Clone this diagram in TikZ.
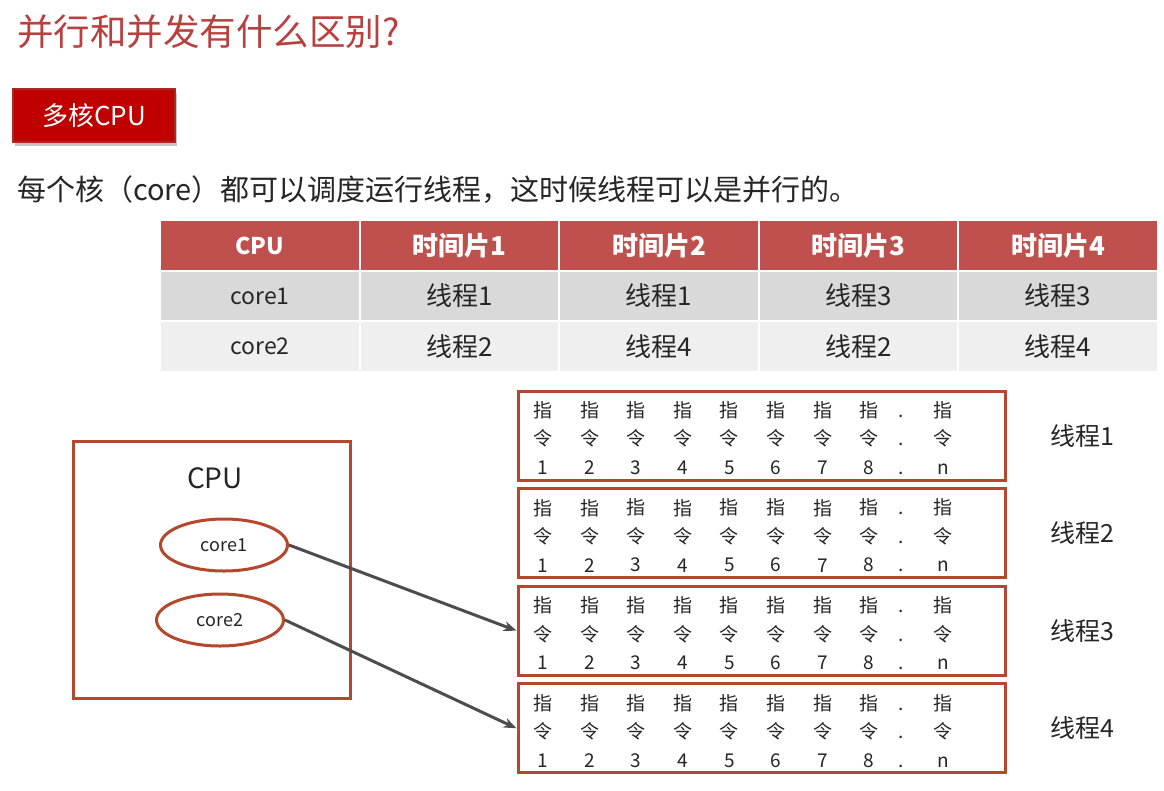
\documentclass[tikz,border=0pt]{standalone}
\usepackage{fontspec}
\setmainfont{Noto Sans CJK SC}
\usepackage{xcolor}
\definecolor{ttl}{HTML}{B8403F}
\definecolor{tag}{HTML}{C00000}
\definecolor{tagedge}{HTML}{A82A1E}
\definecolor{hdr}{HTML}{C0504D}
\definecolor{rowa}{HTML}{D9D9D9}
\definecolor{rowb}{HTML}{EFEFEF}
\definecolor{edge}{HTML}{B4472C}
\definecolor{ink}{HTML}{262626}
\definecolor{wire}{HTML}{4D4D4D}
\usetikzlibrary{arrows.meta,positioning,shadows,shapes.geometric}
\tikzset{
  >={Stealth[length=13pt,width=10pt]},
  cell/.style={draw=white,line width=2pt,minimum width=199.5pt,minimum height=51pt,inner sep=0pt,font=\fontsize{26}{28}\selectfont,text=ink},
  hcell/.style={cell,fill=hdr,text=white,font=\fontsize{26}{28}\selectfont\bfseries},
  acell/.style={cell,fill=rowa},
  bcell/.style={cell,fill=rowb},
  small/.style={font=\fontsize{23}{26}\selectfont},
  smallbf/.style={font=\fontsize{23}{26}\selectfont\bfseries},
  thbox/.style={draw=edge,line width=3pt,fill=white,minimum width=487pt,minimum height=89pt,inner sep=0pt},
  instr/.style={align=center,inner sep=0pt,text=ink,font=\fontsize{19}{28.5}\selectfont},
  thlab/.style={font=\fontsize{25}{28}\selectfont,text=ink},
  core/.style={ellipse,draw=edge,line width=3pt,minimum width=127pt,minimum height=52pt,inner sep=0pt,font=\fontsize{18}{20}\selectfont,text=ink},
  link/.style={->,draw=wire,line width=3pt},
}
\begin{document}
\begin{tikzpicture}[x=1pt,y=-1pt]
\useasboundingbox[fill=white] (0,0) rectangle (1164,790);
% heading
\node[anchor=west,text=ttl,font=\fontsize{36.5}{40}\selectfont,inner sep=0pt] (title) at (17,32) {并行和并发有什么区别?};
\node[fill=tag,draw=tagedge,line width=1.5pt,text=white,minimum width=162pt,minimum height=53pt,
  font=\fontsize{26}{28}\selectfont,drop shadow={shadow xshift=2pt,shadow yshift=-4pt,opacity=0.45}] (tag) at (94,115.5) {多核CPU};
\node[anchor=west,text=ink,font=\fontsize{29}{32}\selectfont,inner sep=0pt] (lead) at (17,190)
  {每个核（core）都可以调度运行线程，这时候线程可以是并行的。};
% schedule table
\node[hcell,smallbf] (h0) at (260,245.5) {CPU};
\node[acell,small] (a0) at (260,296) {core1};
\node[bcell,small] (b0) at (260,346.5) {core2};
\foreach \txt [count=\c] in {时间片1,时间片2,时间片3,时间片4}
  \node[hcell] (h\c) at ({260+199.5*\c},245.5) {\txt};
\foreach \txt [count=\c] in {线程1,线程1,线程3,线程3}
  \node[acell] (a\c) at ({260+199.5*\c},296) {\txt};
\foreach \txt [count=\c] in {线程2,线程4,线程2,线程4}
  \node[bcell] (b\c) at ({260+199.5*\c},346.5) {\txt};
% cpu with two cores
\node[draw=edge,line width=3pt,minimum width=277pt,minimum height=257pt] (cpu) at (211.5,569.5) {};
\node[font=\fontsize{28}{30}\selectfont,text=ink] (cpulab) at (215,478) {CPU};
\node[core] (c1) at (224,545) {core1};
\node[core] (c2) at (220,620) {core2};
% threads with their instructions
\foreach \i in {1,...,4} {
  \node[thbox] (t\i) at (761.5,{435.5+97.6*(\i-1)}) {};
  \foreach \k in {1,...,8}
    \node[instr] (t\i-\k) at ({543+46.6*(\k-1)},{438+97.6*(\i-1)}) {指\\令\\\k};
  \node[instr] (t\i-d) at (901,{438+97.6*(\i-1)}) {\vphantom{指}.\\\vphantom{令}.\\\vphantom{8}.};
  \node[instr] (t\i-n) at (943,{438+97.6*(\i-1)}) {指\\令\\\vphantom{8}n};
  \node[thlab,right=40pt of t\i] (l\i) {线程\i};
}
\draw[link] (c1.east) -- (t3.west);
\draw[link] (c2.east) -- (t4.west);
\end{tikzpicture}
\end{document}
